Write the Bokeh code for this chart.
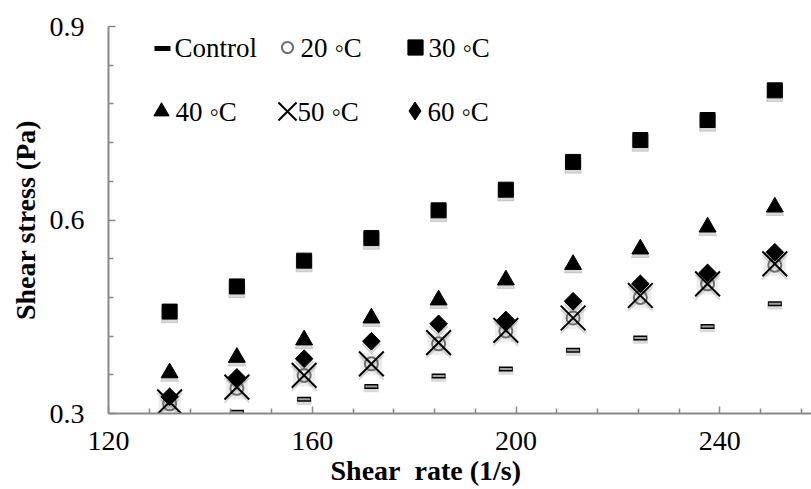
import numpy as np
from bokeh.plotting import figure
from bokeh.models import (Range1d, FixedTicker, Legend, LegendItem, Label, Title,
                          ColumnDataSource)
from bokeh.transform import dodge
from bokeh.embed import file_html
from bokeh.resources import INLINE

# ---- data ----
shear_rate = [132, 145.2, 158.4, 171.6, 184.8, 198, 211.2, 224.4, 237.6, 250.8]
control = [np.nan, 0.302, 0.322, 0.342, 0.358, 0.369, 0.398, 0.417, 0.435, 0.470]
t20 = [0.315, 0.339, 0.359, 0.377, 0.408, 0.428, 0.448, 0.480, 0.501, 0.530]
t30 = [0.458, 0.497, 0.537, 0.572, 0.615, 0.647, 0.690, 0.724, 0.755, 0.801]
t40 = [0.363, 0.387, 0.414, 0.448, 0.476, 0.507, 0.531, 0.555, 0.589, 0.620]
t50 = [0.318, 0.341, 0.359, 0.377, 0.410, 0.429, 0.448, 0.483, 0.501, 0.532]
t60 = [0.326, 0.356, 0.385, 0.412, 0.439, 0.445, 0.474, 0.501, 0.518, 0.550]

series_names = ["Control", "20 \u25e6C", "30 \u25e6C", "40 \u25e6C", "50 \u25e6C", "60 \u25e6C"]
x_major = [120, 160, 200, 240]
x_minor = [128, 136, 144, 152, 168, 176, 184, 192, 208, 216, 224, 232, 248, 256]
y_major = [0.3, 0.6, 0.9]
y_minor = [0.36, 0.42, 0.48, 0.54, 0.66, 0.72, 0.78, 0.84]

FONT = "Liberation Serif"
AXIS_GRAY = "#898989"

p = figure(width=811, height=489, output_backend="svg", toolbar_location=None,
           x_range=Range1d(120, 258), y_range=Range1d(0.3, 0.9),
           min_border_left=108, min_border_right=0, min_border_top=26, min_border_bottom=76)
p.outline_line_color = None
p.xgrid.visible = False
p.ygrid.visible = False
p.background_fill_color = "white"

src = {
    "c": ColumnDataSource(dict(x=shear_rate, y=np.array(control, dtype=float))),
    "20": ColumnDataSource(dict(x=shear_rate, y=t20)),
    "30": ColumnDataSource(dict(x=shear_rate, y=t30)),
    "40": ColumnDataSource(dict(x=shear_rate, y=t40)),
    "50": ColumnDataSource(dict(x=shear_rate, y=t50)),
    "60": ColumnDataSource(dict(x=shear_rate, y=t60)),
}
shadow_y = dodge("y", -0.005)

# light halos behind open circle / cross markers
p.scatter("x", "y", source=src["20"], marker="square", size=22, fill_color="#d6d6d6",
          fill_alpha=0.45, line_color=None)

# soft shadows
SH = dict(fill_color="#808080", line_color="#808080", fill_alpha=0.3, line_alpha=0.3)
p.scatter("x", shadow_y, source=src["c"], marker="dash", size=15, line_width=5,
          line_color="#808080", line_alpha=0.3)
p.scatter("x", shadow_y, source=src["30"], marker="square", size=16, **SH)
p.scatter("x", shadow_y, source=src["40"], marker="triangle", size=18, **SH)
p.scatter("x", shadow_y, source=src["50"], marker="x", size=35, line_width=2,
          line_color="#808080", line_alpha=0.3)
p.scatter("x", shadow_y, source=src["60"], marker="square", angle=np.pi / 4, size=13, **SH)

# markers
r_c = p.scatter("x", "y", source=src["c"], marker="dash", size=14, line_color="black",
                line_width=5)
p.scatter("x", "y", source=src["c"], marker="dash", size=12, line_color="#a0a0a0",
          line_width=2)
r_20 = p.scatter("x", "y", source=src["20"], marker="circle", size=13, fill_color=None,
                 line_color="#6e6e6e", line_width=2)
r_30 = p.scatter("x", "y", source=src["30"], marker="square", size=15, fill_color="black",
                 line_color="black")
r_40 = p.scatter("x", "y", source=src["40"], marker="triangle", size=17, fill_color="black",
                 line_color="black")
r_50 = p.scatter("x", "y", source=src["50"], marker="x", size=35, line_color="black",
                 line_width=2)
# plain diamond hidden under the rotated squares; its legend key is a diamond
# (legend keys ignore marker rotation)
r_60leg = p.scatter("x", "y", source=src["60"], marker="diamond", size=16,
                    fill_color="black", line_color="black")
r_60 = p.scatter("x", "y", source=src["60"], marker="square", angle=np.pi / 4, size=12.5,
                 fill_color="black", line_color="black")

FRAME_LEFT, FRAME_BOTTOM = 108, 413

# legend keys: one single-glyph legend per key, placed at the key's centre
# (renderer, legend box size (marker = 0.4 * box), centre x, centre y in page pixels)
key_specs = [
    (r_c, 40, 160.5, 47.5),
    (r_20, 28, 285.5, 47),
    (r_30, 38, 414, 47),
    (r_40, 38, 160, 111),
    (r_50, 64, 286, 110.5),
    (r_60leg, 45, 413.8, 110.5),
]
for rend, g, cx, cy in key_specs:
    lg = Legend(items=[LegendItem(label=" ", renderers=[rend])],
                location=(cx - FRAME_LEFT - g / 2 + 1, FRAME_BOTTOM - cy - g / 2),
                glyph_width=g, glyph_height=g, label_height=g, label_standoff=0,
                label_text_font_size="1px", padding=0, margin=0, spacing=0,
                border_line_color=None, background_fill_alpha=0)
    p.add_layout(lg, "center")

# legend texts (x = left edge, y = baseline, in page pixels)
text_specs = [
    (series_names[0], 174, 56.5),
    (series_names[1], 300, 56.5),
    (series_names[2], 428, 56.5),
    (series_names[3], 175, 120.5),
    (series_names[4], 297, 120.5),
    (series_names[5], 427, 120.5),
]
BASELINE_FIX = 9.5
for txt, tx, ty in text_specs:
    p.add_layout(Label(x=tx - FRAME_LEFT, y=FRAME_BOTTOM - ty + BASELINE_FIX,
                       x_units="screen", y_units="screen", text=txt, text_font=FONT,
                       text_font_size="27px", text_align="left",
                       text_baseline="alphabetic", text_color="black"))

# axes
for ax in (p.xaxis[0], p.yaxis[0]):
    ax.axis_line_color = AXIS_GRAY
    ax.axis_line_width = 2
    ax.major_tick_line_color = AXIS_GRAY
    ax.minor_tick_line_color = AXIS_GRAY
    ax.major_tick_line_width = 1.5
    ax.minor_tick_line_width = 1.5
    ax.major_tick_in = 7
    ax.major_tick_out = 0
    ax.minor_tick_in = 5
    ax.minor_tick_out = 0
    ax.major_label_text_font = FONT
    ax.major_label_text_font_size = "28px"
    ax.major_label_text_color = "black"

p.xaxis.ticker = FixedTicker(ticks=x_major, minor_ticks=x_minor)
p.yaxis.ticker = FixedTicker(ticks=y_major, minor_ticks=y_minor)
p.yaxis.major_label_overrides = {0.3: "0.3", 0.6: "0.6", 0.9: "0.9"}
p.xaxis.major_label_standoff = 18
p.yaxis.major_label_standoff = 24

p.yaxis.axis_label = "Shear stress (Pa)"
p.yaxis.axis_label_text_font = FONT
p.yaxis.axis_label_text_font_style = "bold"
p.yaxis.axis_label_text_font_size = "28px"
p.yaxis.axis_label_text_color = "black"
p.yaxis.axis_label_standoff = 6

p.add_layout(Title(text="Shear\u00a0 rate (1/s)", align="left", offset=222, standoff=0,
                   text_font=FONT, text_font_style="bold", text_font_size="28px",
                   text_color="black"), "below")

open("out.html", "w").write(file_html(p, INLINE))
